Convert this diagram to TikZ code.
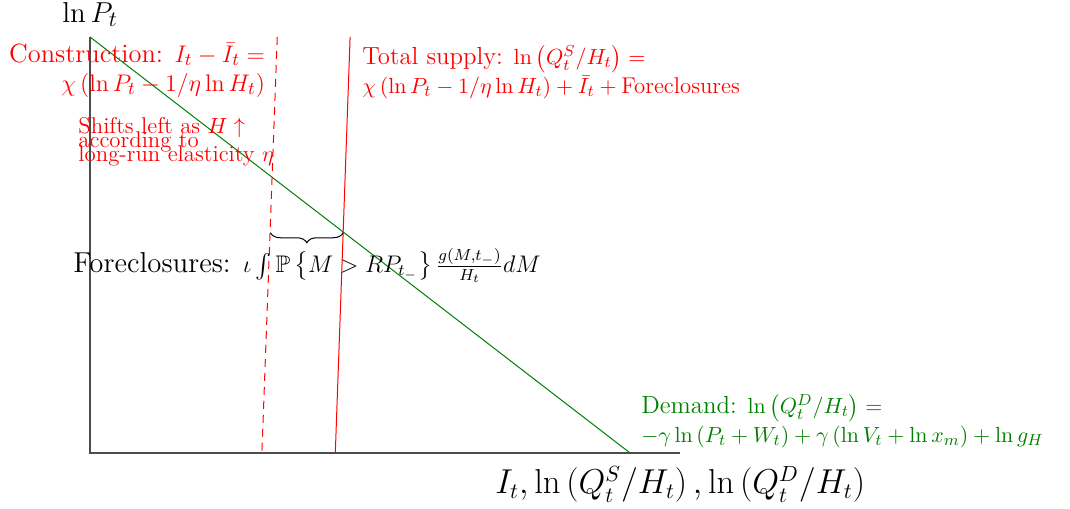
\documentclass[tikz,border=0pt]{standalone}
\usepackage{amsmath}
\usepackage{amssymb}
\usepackage{xcolor}
\usepackage{tikz}
\usetikzlibrary{decorations.pathreplacing}
\definecolor{demandgreen}{HTML}{008000}
\newcommand{\eqsize}{\fontsize{11.4}{14}\selectfont}
\newcommand{\lblsize}{\fontsize{12.4}{14.5}\selectfont}

\begin{document}
\begin{tikzpicture}[
  axis/.style   ={draw=black!70, line width=0.6pt},
  demand/.style ={draw=demandgreen, line width=0.5pt},
  supply/.style ={draw=red, line width=0.5pt},
  constr/.style ={supply, dashed, dash pattern=on 4pt off 3pt},
  redlbl/.style ={text=red, inner sep=0pt, font=\lblsize},
  grnlbl/.style ={text=demandgreen, inner sep=0pt, font=\lblsize},
  brc/.style    ={decorate, decoration={brace, mirror, amplitude=5pt},
                  draw=black, line width=0.5pt}
]
  \useasboundingbox (-1.582,-0.967) rectangle (17.22,7.96);
  \coordinate (o)  at (0,0);
  \coordinate (yt) at (0,7.31);
  \coordinate (xr) at (10.37,0);
  \coordinate (d1) at (0,7.31);
  \coordinate (d2) at (9.49,0);
  \coordinate (s1) at (4.57,7.31);
  \coordinate (s2) at (4.31,0);
  \coordinate (c1) at (3.29,7.31);
  \coordinate (c2) at (3.02,0);
  \coordinate (eq) at (intersection of d1--d2 and s1--s2);
  \coordinate (bl) at (3.17,3.87);

  \draw[axis]    (yt) -- (o) -- (xr);
  \draw[demand]  (d1) -- (d2);
  \draw[supply]  (s1) -- (s2);
  \draw[constr]  (c1) -- (c2);
  \draw[brc]     (bl) -- (eq |- bl);

  \node[font=\fontsize{15.4}{18}\selectfont] (ylab) at (0,7.70) {$\ln P_t$};
  \node[font=\fontsize{16.3}{19}\selectfont] (xlab) at (10.37,-0.55)
       {$I_t, \ln\left(Q^S_t/H_t\right), \ln\left(Q^D_t/H_t\right)$};
  \node[redlbl, anchor=east, align=right, font=\fontsize{13.2}{14.5}\selectfont] (cons) at (3.08,6.73)
       {Construction: $I_t-\bar{I}_t=$\\$\chi\left(\ln P_t - 1/\eta\ln H_t\right)$};
  \node[redlbl, anchor=west, align=left, font=\fontsize{11.4}{13.4}\selectfont] (shft) at (-0.21,5.46)
       {Shifts left as $H\uparrow$\\[-1.3ex]according to\\[-1.3ex]long-run elasticity $\eta$};
  \node[redlbl, anchor=west, align=left] (tots) at (4.78,6.69)
       {Total supply: {\eqsize$\ln\left(Q^S_t/H_t\right)=$}\\
        {\eqsize$\chi\left(\ln P_t - 1/\eta\ln H_t\right)+\bar{I}_t+\text{Foreclosures}$}};
  \node[anchor=west, inner sep=0pt, font=\Large] (fore) at (-0.30,3.29)
       {Foreclosures: {\large$\iota\int\mathbb{P}\left\{M>RP_{t_-}\right\}\frac{g\left(M,t_-\right)}{H_t}dM$}};
  \node[grnlbl, anchor=west, align=left] (dmnd) at (9.68,0.56)
       {Demand: {\eqsize$\ln\left(Q^D_t/H_t\right)=$}\\
        {\eqsize$-\gamma\ln\left(P_t+W_t\right)+\gamma\left(\ln V_t+\ln x_m\right)+\ln g_H$}};
\end{tikzpicture}
\end{document}
